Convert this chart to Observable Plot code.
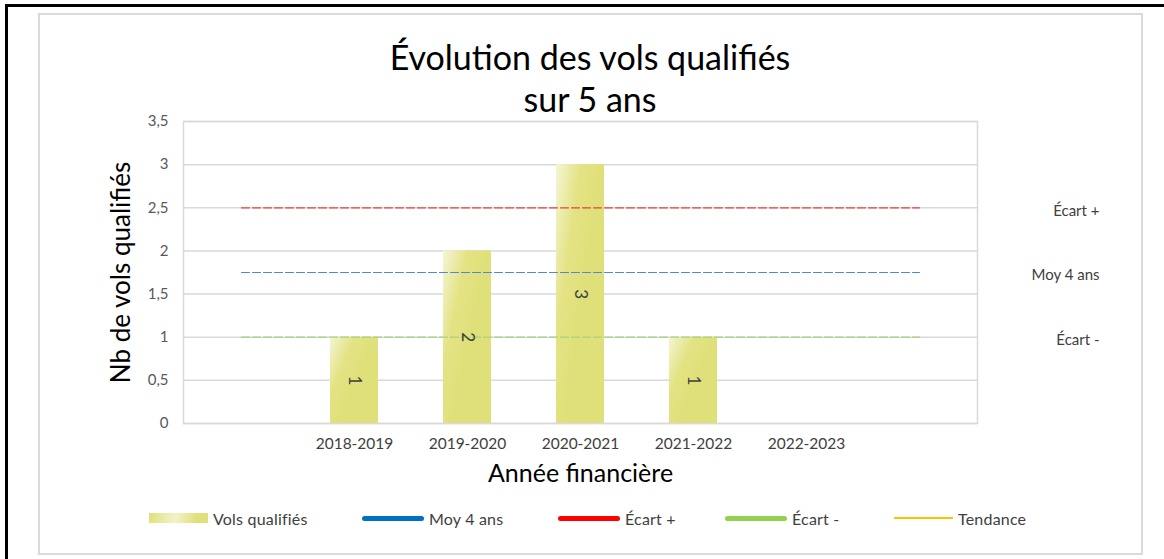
<!DOCTYPE html>
<html>
<head>
<meta charset="utf-8">
<script src="https://cdn.jsdelivr.net/npm/d3@7"></script>
<script src="https://cdn.jsdelivr.net/npm/@observablehq/plot@0.6"></script>
<style>
  html, body { margin: 0; padding: 0; background: #fff; overflow: hidden; }
  #chart { position: relative; width: 1164px; height: 559px; overflow: hidden; background: #fff; font-family: Lato, "Open Sans", sans-serif; }
  .abs { position: absolute; }
  #title { left: 290px; width: 600px; top: 36px; text-align: center; font-size: 34px; line-height: 42px; color: #000; }
  #plot { left: 0; top: 110px; }
  .leg { position: absolute; top: 508px; height: 20px; display: flex; align-items: center; font-size: 16px; letter-spacing: 0.2px; color: #404040; white-space: nowrap; }
  .sw { display: inline-block; margin-right: 5px; }
</style>
</head>
<body>
<div id="chart">
  <div class="abs" style="left:38px;top:13px;width:1101px;height:538px;border:2px solid #dadada;"></div>
  <div id="title" class="abs"></div>
  <div id="plot" class="abs"></div>
  <div id="legend"></div>
  <div class="abs" style="right:0;top:0;width:14px;height:559px;background:#fff;z-index:10;"></div>
  <div class="abs" style="left:5px;top:4px;width:1159px;height:3px;background:#000;z-index:11;"></div>
  <div class="abs" style="left:5px;top:4px;width:3px;height:555px;background:#000;z-index:11;"></div>
</div>
<script>
// ---- data ----
const titleLines = ["Évolution des vols qualifiés", "sur 5 ans"];
const categories = ["", "2018-2019", "2019-2020", "2020-2021", "2021-2022", "2022-2023", " "];
const years = ["2018-2019", "2019-2020", "2020-2021", "2021-2022", "2022-2023"];
const volsQualifies = [1, 2, 3, 1, null];
const refNames = ["Écart +", "Moy 4 ans", "Écart -"];
const refValues = [2.5, 1.75, 1];
const refColors = ["#e8413c", "#4a8bd4", "#a6d17e"];
const yTicks = [0, 0.5, 1, 1.5, 2, 2.5, 3, 3.5];
const yLabel = "Nb de vols qualifiés";
const xLabel = "Année financière";
const legendNames = ["Vols qualifiés", "Moy 4 ans", "Écart +", "Écart -", "Tendance"];
const legendColors = ["gradient", "#0070c0", "#ff0000", "#92d050", "#ffc000"];
const legendLeft = [149, 362, 558, 725, 894];

// ---- build ----
document.getElementById("title").innerHTML = titleLines.map(t => `<div>${t}</div>`).join("");
const bars = years.map((y, i) => ({year: y, value: volsQualifies[i]})).filter(d => d.value != null);
const refs = refNames.map((n, i) => ({name: n, value: refValues[i], color: refColors[i]}));
const refLineData = refs.flatMap(r => categories.map(c => ({cat: c, value: r.value, name: r.name, color: r.color})));
const fmt = d => String(d).replace(".", ",");

const plot = Plot.plot({
  width: 1164, height: 390, marginTop: 11, marginBottom: 77, marginLeft: 183, marginRight: 187,
  style: {fontFamily: "Lato, 'Open Sans', sans-serif", fontSize: "15px", color: "#595959", background: "transparent", overflow: "visible"},
  x: {type: "band", domain: categories, paddingInner: 0.577, paddingOuter: 0.2885, axis: null},
  y: {domain: [0, 3.5], axis: null},
  marks: [
    Plot.ruleY(yTicks, {stroke: "#d9d9d9", strokeWidth: 1.5}),
    Plot.frame({stroke: "#d9d9d9", strokeWidth: 1.5}),
    Plot.barY(bars, {x: "year", y: "value", fill: "url(#volsGrad)"}),
    Plot.line(refLineData, {x: "cat", y: "value", z: "name", stroke: "color", strokeWidth: 1.2, strokeDasharray: "8,3"}),
    Plot.text(bars, {x: "year", y: d => d.value / 2, text: d => String(d.value), rotate: 90, fontSize: 17, fill: "#404040"}),
    Plot.axisY({ticks: yTicks, tickSize: 0, tickPadding: 15, tickFormat: fmt, label: null, fill: "#595959"}),
    Plot.axisX({ticks: years, tickSize: 0, tickPadding: 14, label: null, fill: "#404040", fontSize: 15.5}),
    Plot.text([yLabel], {frameAnchor: "left", textAnchor: "middle", dx: -62, rotate: -90, fontSize: 26, fill: "#000"}),
    Plot.text([xLabel], {frameAnchor: "bottom", dy: 58, fontSize: 25, fill: "#000"}),
    Plot.text(refs, {frameAnchor: "right", y: "value", text: "name", dx: 122, dy: 3, textAnchor: "end", fill: "#404040", fontSize: 15})
  ]
});
const ns = "http://www.w3.org/2000/svg";
const defs = document.createElementNS(ns, "defs");
defs.innerHTML = `<linearGradient id="volsGrad" x1="0" y1="0" x2="0.6" y2="0.45"><stop offset="0" stop-color="#f5f5d6"/><stop offset="0.55" stop-color="#e3e384"/><stop offset="1" stop-color="#e0e07a"/></linearGradient>`;
plot.insertBefore(defs, plot.firstChild);
document.getElementById("plot").appendChild(plot);

// legend
const legend = document.getElementById("legend");
legendNames.forEach((name, i) => {
  const item = document.createElement("div");
  item.className = "leg";
  item.style.left = legendLeft[i] + "px";
  const sw = document.createElement("span");
  sw.className = "sw";
  const c = legendColors[i];
  if (c === "gradient") sw.style.cssText = "width:59px;height:10px;background:linear-gradient(100deg,#e0e07a 0%,#f2f2c8 45%,#e0e07a 80%);";
  else if (i === 4) sw.style.cssText = `width:59px;height:2px;background:${c};`;
  else sw.style.cssText = `width:62px;height:5px;border-radius:3px;background:${c};`;
  item.appendChild(sw);
  item.appendChild(document.createTextNode(name));
  legend.appendChild(item);
});
</script>
</body>
</html>
